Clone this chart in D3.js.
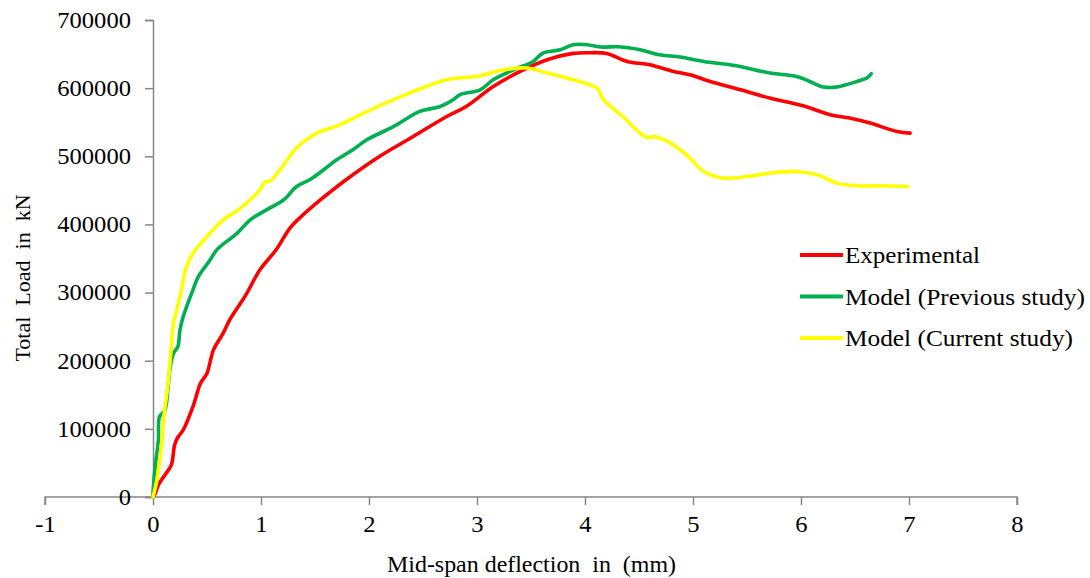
<!DOCTYPE html>
<html>
<head>
<meta charset="utf-8">
<script src="https://cdn.jsdelivr.net/npm/d3@7"></script>
<style>
  html, body { margin: 0; padding: 0; background: #fff; }
  svg { display: block; }
  text { font-family: "Liberation Serif", "Times New Roman", serif; fill: #000; }
</style>
</head>
<body>
<svg id="chart" width="1090" height="578"></svg>
<script>
// Mid-span deflection (mm) and total load (kN) for each curve
const expDeflection = [0, 0.02, 0.05, 0.11, 0.17, 0.20, 0.23, 0.28, 0.37, 0.44, 0.50, 0.56, 0.65, 0.71, 0.86, 0.99, 1.14, 1.27, 1.40, 1.55, 1.62, 1.80, 2.10, 2.41, 2.72, 2.90, 3.15, 3.40, 3.65, 3.89, 4.05, 4.20, 4.39, 4.60, 4.82, 4.97, 5.16, 5.44, 5.71, 6.02, 6.27, 6.45, 6.64, 6.89, 7.01];
const expLoad = [0, 5000, 17600, 32300, 47000, 76400, 87700, 98400, 132600, 166900, 181600, 215900, 240400, 259900, 296700, 333400, 362800, 395000, 415600, 436000, 445000, 467000, 500000, 529000, 558400, 573100, 602500, 624500, 641700, 651000, 652000, 651000, 639200, 634400, 624500, 619700, 609800, 597600, 585400, 574100, 560900, 556100, 548700, 536400, 534000];

const prevDeflection = [0, 0.00, 0.02, 0.05, 0.06, 0.11, 0.14, 0.16, 0.19, 0.23, 0.25, 0.28, 0.37, 0.42, 0.53, 0.59, 0.78, 0.90, 1.05, 1.21, 1.33, 1.45, 1.58, 1.70, 1.85, 1.98, 2.23, 2.47, 2.66, 2.78, 2.84, 3.03, 3.15, 3.34, 3.52, 3.61, 3.77, 3.89, 4.02, 4.14, 4.31, 4.51, 4.69, 4.88, 5.10, 5.40, 5.71, 5.96, 6.08, 6.21, 6.33, 6.52, 6.61, 6.65];
const prevLoad = [0, 5400, 44500, 83700, 117900, 127700, 162000, 191300, 211000, 220700, 245200, 264800, 304000, 323500, 348000, 362700, 387200, 406700, 421400, 436100, 455600, 465500, 480200, 494800, 509500, 524200, 543800, 565800, 573100, 583000, 590300, 597600, 612300, 627000, 639200, 651500, 656400, 663700, 663700, 660300, 660800, 656400, 649000, 645700, 639200, 632900, 622200, 617200, 609800, 601600, 601600, 609800, 614800, 621100];

const currDeflection = [0, 0.03, 0.05, 0.08, 0.10, 0.12, 0.14, 0.17, 0.19, 0.25, 0.31, 0.37, 0.50, 0.65, 0.81, 0.99, 1.04, 1.08, 1.21, 1.33, 1.52, 1.73, 1.95, 2.26, 2.53, 2.72, 3.03, 3.21, 3.46, 3.65, 3.89, 4.11, 4.17, 4.35, 4.56, 4.66, 4.79, 4.94, 5.10, 5.28, 5.50, 5.71, 5.96, 6.15, 6.33, 6.52, 6.76, 6.99];
const currLoad = [0, 20100, 39600, 78900, 117900, 142400, 167000, 220700, 255100, 294100, 338200, 357800, 382200, 406700, 423900, 450800, 463000, 463000, 487500, 512500, 534000, 546200, 563400, 585400, 602500, 612300, 618200, 626000, 629500, 622200, 612300, 600100, 583000, 558400, 528600, 528200, 519400, 502200, 477700, 468000, 470300, 475300, 477700, 472800, 460600, 456700, 456700, 455700];

const seriesNames = ["Experimental", "Model (Previous study)", "Model (Current study)"];
const seriesColors = ["#ff0000", "#00b050", "#ffff00"];

const xTicks = [-1, 0, 1, 2, 3, 4, 5, 6, 7, 8];
const yTicks = [0, 100000, 200000, 300000, 400000, 500000, 600000, 700000];

const xTitle = "Mid-span deflection  in  (mm)";
const yTitle = "Total  Load  in  kN";

const series = [
  { name: seriesNames[0], color: seriesColors[0], xs: expDeflection, ys: expLoad, width: 135 },
  { name: seriesNames[1], color: seriesColors[1], xs: prevDeflection, ys: prevLoad, width: 240 },
  { name: seriesNames[2], color: seriesColors[2], xs: currDeflection, ys: currLoad, width: 228 }
];

const svg = d3.select("#chart");
const plot = { left: 45, right: 1017, top: 20, bottom: 497 };

const x = d3.scaleLinear().domain([-1, 8]).range([plot.left, plot.right]);
const y = d3.scaleLinear().domain([0, 700000]).range([plot.bottom, plot.top]);

const axisColor = "#868686";
const fontSize = 23;
const stretch = 1.07; // labels are set slightly wide

// X axis, crossing at zero load
const xAxis = svg.append("g")
  .attr("transform", `translate(0,${y(0)})`)
  .call(d3.axisBottom(x).tickValues(xTicks).tickFormat(d => String(d)).tickSize(8).tickPadding(11));

// Y axis, crossing at zero deflection
const yAxis = svg.append("g")
  .attr("transform", `translate(${x(0)},0)`)
  .call(d3.axisLeft(y).tickValues(yTicks).tickFormat(d => String(d)).tickSize(8).tickPadding(14));

[xAxis, yAxis].forEach(g => {
  g.select(".domain").attr("stroke", axisColor).attr("stroke-width", 1.5);
  g.selectAll(".tick line").attr("stroke", axisColor).attr("stroke-width", 1.5);
  g.selectAll(".tick text")
    .attr("font-family", "Liberation Serif, Times New Roman, serif")
    .attr("font-size", fontSize)
    .attr("fill", "#000");
});
xAxis.select(".domain").attr("d", `M${plot.left},8V0H${plot.right}V8`);

// Widen tick labels horizontally about their anchor
xAxis.selectAll(".tick text").attr("transform", `scale(${stretch},1)`);
yAxis.selectAll(".tick text")
  .attr("x", null)
  .attr("transform", `translate(-22,0) scale(${stretch},1)`);

// Curves
const line = d3.line()
  .x(d => x(d[0]))
  .y(d => y(d[1]))
  .curve(d3.curveCatmullRom.alpha(0.5));

svg.append("g").selectAll("path")
  .data(series)
  .join("path")
  .attr("d", s => line(s.xs.map((v, i) => [v, s.ys[i]])))
  .attr("fill", "none")
  .attr("stroke", s => s.color)
  .attr("stroke-width", 3.6)
  .attr("stroke-linejoin", "round")
  .attr("stroke-linecap", "round");

// Axis titles
svg.append("text")
  .attr("x", 387)
  .attr("y", 572)
  .attr("font-size", fontSize)
  .attr("textLength", 289)
  .attr("lengthAdjust", "spacingAndGlyphs")
  .style("white-space", "pre")
  .text(xTitle);

svg.append("text")
  .attr("transform", "translate(30,278) rotate(-90)")
  .attr("text-anchor", "middle")
  .attr("font-size", 22)
  .style("white-space", "pre")
  .text(yTitle);

// Legend
const legend = svg.append("g").attr("transform", "translate(800,255)");
const item = legend.selectAll("g")
  .data(series)
  .join("g")
  .attr("transform", (d, i) => `translate(0,${i * 41.5})`);
item.append("line")
  .attr("x1", 0).attr("x2", 43)
  .attr("y1", 0).attr("y2", 0)
  .attr("stroke", d => d.color)
  .attr("stroke-width", 4);
item.append("text")
  .attr("x", 45)
  .attr("y", 8)
  .attr("font-size", fontSize)
  .attr("textLength", d => d.width)
  .attr("lengthAdjust", "spacingAndGlyphs")
  .text(d => d.name);
</script>
</body>
</html>
